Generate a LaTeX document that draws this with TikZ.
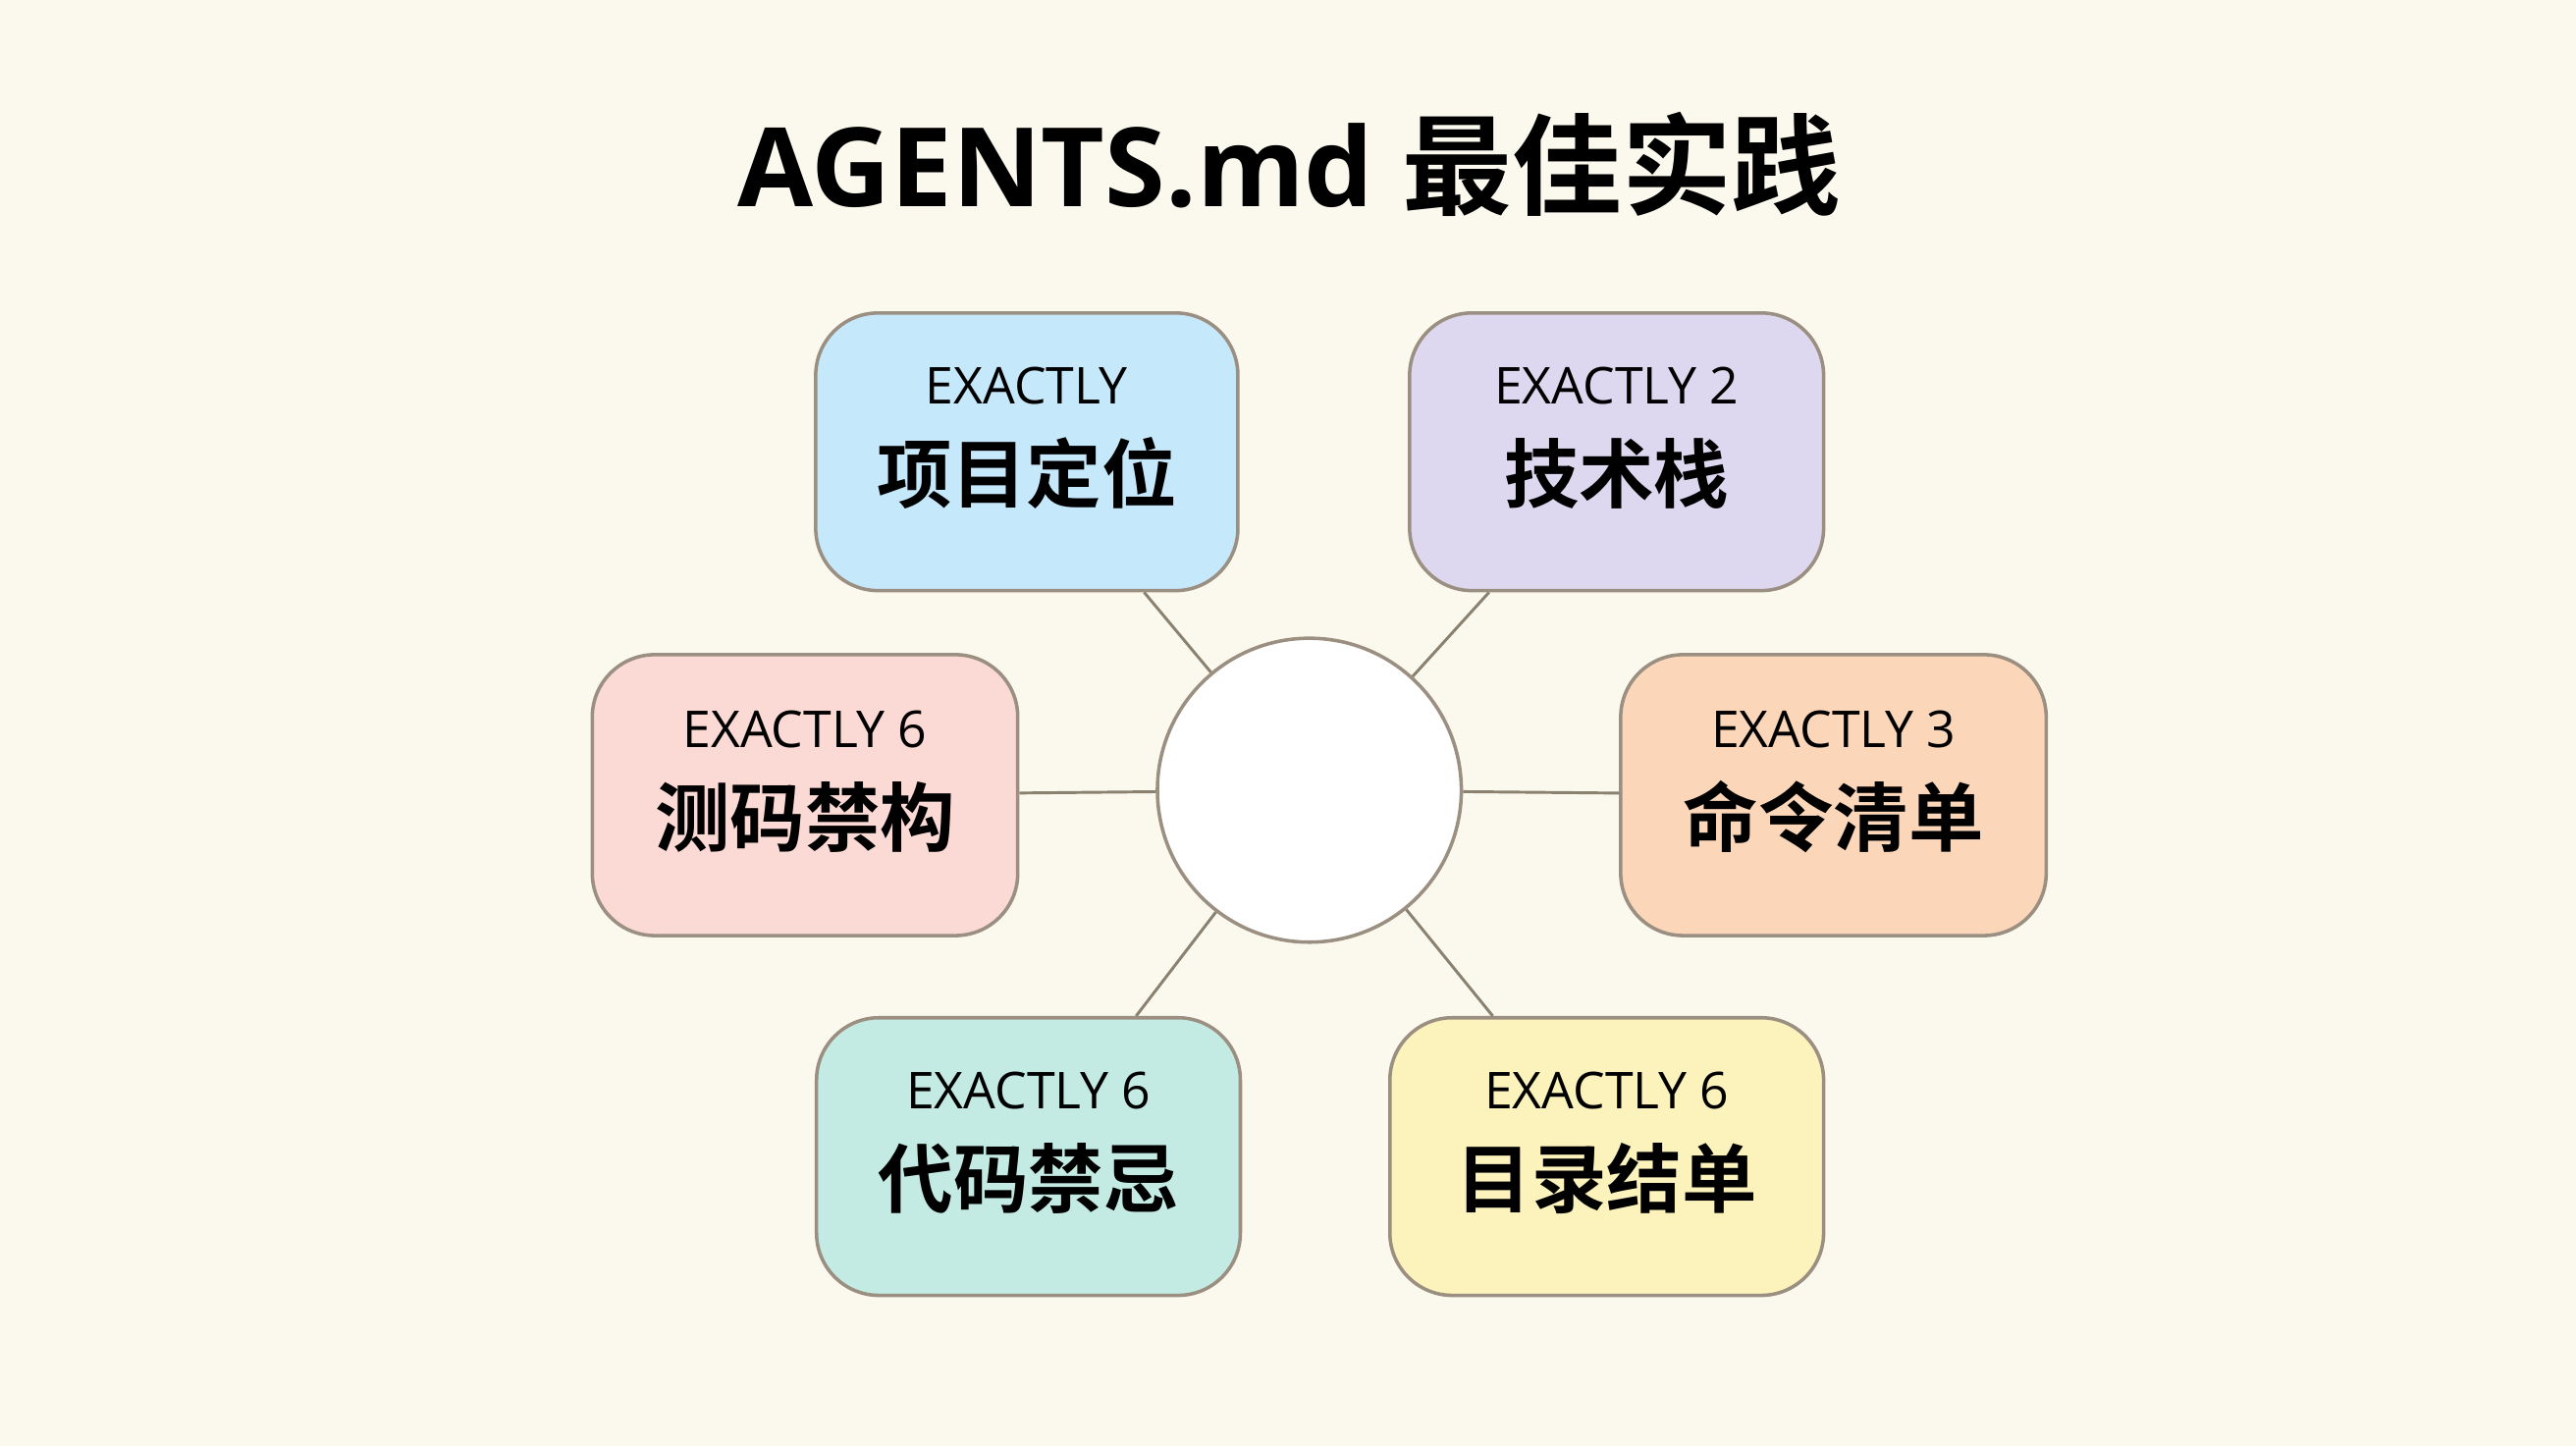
\documentclass[tikz,border=0pt]{standalone}
\usepackage{fontspec}
\setmainfont{Open Sans}
\newfontfamily\cjk{Noto Sans CJK SC}[BoldFont={Noto Sans CJK SC Bold}]
\usetikzlibrary{positioning}
\definecolor{bgc}{HTML}{FBF8EE}
\definecolor{edgec}{HTML}{9A8F80}
\definecolor{linec}{HTML}{8A8170}
\tikzset{
	card/.style={draw=edgec, line width=0.6pt, rounded corners=0.38cm, minimum width=2.57cm, minimum height=1.69cm, align=center, inner sep=0pt},
	spoke/.style={draw=linec, line width=0.5pt}
}
\newcommand{\cardtext}[2]{{\fontsize{8.8}{11}\selectfont #1}\\[5pt]{\cjk\bfseries\fontsize{13}{15}\selectfont #2\rule[-6pt]{0pt}{1pt}}}
\begin{document}
\begin{tikzpicture}
	\fill[bgc] (0,0) rectangle (15.68,-8.80);
	\useasboundingbox (0,0) rectangle (15.68,-8.80);
	% title
	\node (title) at (7.85,-1.00) {\fontsize{19}{23}\selectfont\bfseries AGENTS.md {\cjk 最佳实践}};
	% hub
	\node[circle, draw=edgec, fill=white, line width=0.6pt, minimum size=1.85cm] (hub) at (7.97,-4.81) {};
	% cards
	\node[card, fill={rgb,255:red,197;green,232;blue,251}] (pos) at (6.25,-2.75) {\cardtext{EXACTLY}{项目定位}};
	\node[card, fill={rgb,255:red,221;green,216;blue,240}, minimum width=2.52cm] (stack) at (9.84,-2.75) {\cardtext{EXACTLY 2}{技术栈}};
	\node[card, fill={rgb,255:red,251;green,217;blue,212}, minimum width=2.59cm, minimum height=1.71cm] (test) at (4.90,-4.84) {\cardtext{EXACTLY 6}{测码禁构}};
	\node[card, fill={rgb,255:red,251;green,214;blue,184}, minimum width=2.59cm, minimum height=1.71cm] (cmd) at (11.16,-4.84) {\cardtext{EXACTLY 3}{命令清单}};
	\node[card, fill={rgb,255:red,196;green,235;blue,227}, minimum width=2.58cm] (code) at (6.26,-7.04) {\cardtext{EXACTLY 6}{代码禁忌}};
	\node[card, fill={rgb,255:red,252;green,242;blue,187}, minimum width=2.64cm] (dir) at (9.78,-7.04) {\cardtext{EXACTLY 6}{目录结单}};
	% spokes
	\foreach \c in {pos,stack,test,cmd,code,dir}
		\draw[spoke] (hub) -- (\c);
\end{tikzpicture}
\end{document}
